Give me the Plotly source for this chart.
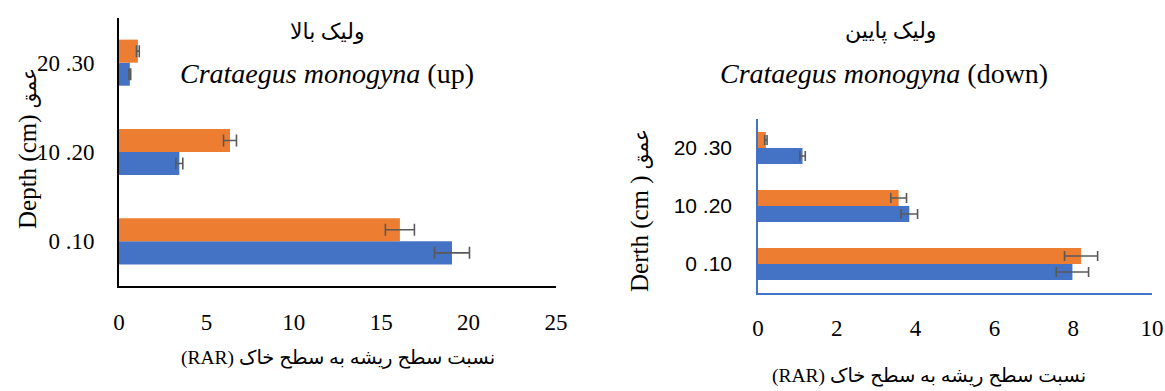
import plotly.graph_objects as go

# ---------------- data ----------------
categories = ["0 .10", "10 .20", "20 .30"]

up_blue = [19.05, 3.45, 0.62]
up_blue_err = [1.0, 0.2, 0.05]
up_orange = [16.07, 6.35, 1.08]
up_orange_err = [0.83, 0.37, 0.08]

down_blue = [7.98, 3.84, 1.13]
down_blue_err = [0.41, 0.21, 0.07]
down_orange = [8.2, 3.57, 0.2]
down_orange_err = [0.42, 0.2, 0.03]

x_ticks_up = [0, 5, 10, 15, 20, 25]
x_ticks_down = [0, 2, 4, 6, 8, 10]

title_up_fa = "ولیک بالا"
title_down_fa = "ولیک پایین"
title_up_en = "<i>Crataegus monogyna</i> (up)"
title_down_en = "<i>Crataegus monogyna</i> (down)"
ytitle_up = "Depth (cm) <span style='font-size:20px'>عمق</span>"
ytitle_down = "Derth (cm ) <span style='font-size:20px'>عمق</span>"
xtitle = "(RAR) نسبت سطح ریشه به سطح خاک"

BLUE = "#4472C4"
ORANGE = "#ED7D31"
ERR = "#595959"
SERIF = "Liberation Serif, Times New Roman, DejaVu Sans, serif"
SANS = "Liberation Sans, Arial, DejaVu Sans, sans-serif"

W, H = 1165, 391

fig = go.Figure()

wl = 0.258
wr = 0.276

def add(vals, errs, color, xa, ya, w, off, cap):
    fig.add_trace(go.Bar(
        y=categories, x=vals, orientation="h",
        marker=dict(color=color, line=dict(width=0)),
        width=w, offset=off,
        error_x=dict(type="data", array=errs, visible=True, color=ERR,
                     thickness=1.6, width=cap),
        xaxis=xa, yaxis=ya, showlegend=False,
    ))

add(up_blue, up_blue_err, BLUE, "x", "y", wl, -wl, 6)
add(up_orange, up_orange_err, ORANGE, "x", "y", wl, 0, 6)
add(down_blue, down_blue_err, BLUE, "x2", "y2", wr, -wr, 5)
add(down_orange, down_orange_err, ORANGE, "x2", "y2", wr, 0, 5)

def px_x(p):
    return p / W

def px_y(p):
    return 1 - p / H

common = dict(showgrid=False, zeroline=False, showline=True, ticks="", automargin=False)

fig.update_layout(
    width=W, height=H,
    margin=dict(l=0, r=0, t=0, b=0, autoexpand=False),
    paper_bgcolor="white", plot_bgcolor="white",
    xaxis=dict(domain=[px_x(119), px_x(556)], range=[0, 25],
               tickvals=x_ticks_up, linecolor="black", linewidth=2,
               tickfont=dict(family=SERIF, size=23, color="black"),
               ticklabelstandoff=14, anchor="y", **common),
    yaxis=dict(domain=[px_y(286), px_y(18)], type="category",
               categoryorder="array", categoryarray=categories,
               range=[-0.5, 2.5], linecolor="black", linewidth=2,
               tickfont=dict(family=SERIF, size=23, color="black"),
               ticklabelstandoff=18, anchor="x", **common),
    xaxis2=dict(domain=[px_x(758), px_x(1152)], range=[0, 10],
                tickvals=x_ticks_down, linecolor=BLUE, linewidth=1.5,
                tickfont=dict(family=SERIF, size=23, color="black"),
                ticklabelstandoff=14, anchor="y2", **common),
    yaxis2=dict(domain=[px_y(293), px_y(119)], type="category",
                categoryorder="array", categoryarray=categories,
                range=[-0.5, 2.5], linecolor=BLUE, linewidth=1.5,
                tickfont=dict(family=SANS, size=21, color="black"),
                ticklabelstandoff=20, anchor="x2", **common),
)

def ann(text, x, y, size, family=SERIF, angle=0):
    fig.add_annotation(text=text, x=px_x(x), y=px_y(y), xref="paper", yref="paper",
                       showarrow=False, xanchor="center", yanchor="middle",
                       textangle=angle,
                       font=dict(family=family, size=size, color="black"))

ann(title_up_fa, 327, 31, 22)
ann(title_up_en, 327, 73, 28)
ann(title_down_fa, 891, 31, 22)
ann(title_down_en, 884, 73, 28)
ann(ytitle_up, 28, 149, 25, angle=-90)
ann(ytitle_down, 640, 211, 25, angle=-90)
ann(xtitle, 338, 358, 19.5)
ann(xtitle, 929, 376, 19.5)

fig.write_html("out.html",
               config={"displayModeBar": False},
               post_script="document.body.style.margin='0';document.body.style.padding='0';document.body.style.overflow='hidden';")
